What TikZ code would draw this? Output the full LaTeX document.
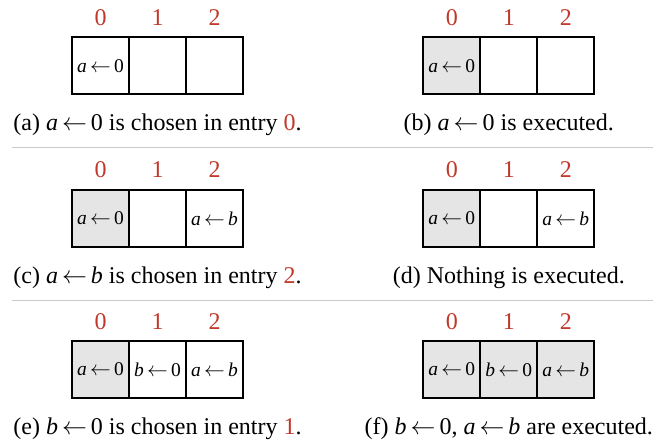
\documentclass[tikz,border=0pt]{standalone}
\usepackage{fontspec}
\setmainfont{Liberation Serif}
\definecolor{idxred}{RGB}{192,57,43}
\definecolor{execgray}{RGB}{229,229,229}
\definecolor{sepgray}{RGB}{200,202,208}
\newcommand{\asg}[2]{\textit{#1}\,$\leftarrow$\,#2}
\tikzset{
  cell/.style={draw=black, line width=2pt, minimum width=57pt, minimum height=57pt, inner sep=0pt, font=\fontsize{19.5}{22}\selectfont},
  done/.style={cell, fill=execgray},
  idx/.style={text=idxred, anchor=base, inner sep=0pt, font=\fontsize{24}{26}\selectfont},
  captext/.style={anchor=base, inner sep=0pt, font=\fontsize{24}{26}\selectfont},
  sepline/.style={draw=sepgray, line width=0.8pt}
}
\begin{document}
\begin{tikzpicture}[x=1pt,y=-1pt]
\useasboundingbox (0,0) rectangle (667,441);
% row 1
\node[cell] (a0) at (100.5,65.8) {\asg{a}{0}};
\node[cell] (a1) at (157.5,65.8) {};
\node[cell] (a2) at (214.5,65.8) {};
\node[done] (b0) at (451.8,65.8) {\asg{a}{0}};
\node[cell] (b1) at (508.8,65.8) {};
\node[cell] (b2) at (565.8,65.8) {};
% row 2
\node[done] (c0) at (100.5,218.5) {\asg{a}{0}};
\node[cell] (c1) at (157.5,218.5) {};
\node[cell] (c2) at (214.5,218.5) {\asg{a}{\textit{b}}};
\node[done] (d0) at (451.8,218.5) {\asg{a}{0}};
\node[cell] (d1) at (508.8,218.5) {};
\node[cell] (d2) at (565.8,218.5) {\asg{a}{\textit{b}}};
% row 3
\node[done] (e0) at (100.5,369.5) {\asg{a}{0}};
\node[cell] (e1) at (157.5,369.5) {\asg{b}{0}};
\node[cell] (e2) at (214.5,369.5) {\asg{a}{\textit{b}}};
\node[done] (f0) at (451.8,369.5) {\asg{a}{0}};
\node[done] (f1) at (508.8,369.5) {\asg{b}{0}};
\node[done] (f2) at (565.8,369.5) {\asg{a}{\textit{b}}};
% indices
\foreach \r in {a,b,c,d,e,f}{
  \node[idx] (\r i0) at ([yshift=11pt]\r0.north) {0};
  \node[idx] (\r i1) at ([yshift=11pt]\r1.north) {1};
  \node[idx] (\r i2) at ([yshift=11pt]\r2.north) {2};
}
% captions
\node[captext] (capa) at ([yshift=-35pt]a1.south) {(a) \asg{a}{0} is chosen in entry \textcolor{idxred}{0}.};
\node[captext] (capb) at ([yshift=-35pt]b1.south) {(b) \asg{a}{0} is executed.};
\node[captext] (capc) at ([yshift=-35pt]c1.south) {(c) \asg{a}{\textit{b}} is chosen in entry \textcolor{idxred}{2}.};
\node[captext] (capd) at ([yshift=-35pt]d1.south) {(d) Nothing is executed.};
\node[captext] (cape) at ([yshift=-35pt]e1.south) {(e) \asg{b}{0} is chosen in entry \textcolor{idxred}{1}.};
\node[captext] (capf) at ([yshift=-35pt]f1.south) {(f) \asg{b}{0}, \asg{a}{\textit{b}} are executed.};
% separators
\coordinate (s1l) at (12,147);
\coordinate (s1r) at (653,147);
\coordinate (s2l) at (12,300);
\coordinate (s2r) at (653,300);
\draw[sepline] (s1l) -- (s1r);
\draw[sepline] (s2l) -- (s2r);
\end{tikzpicture}
\end{document}
